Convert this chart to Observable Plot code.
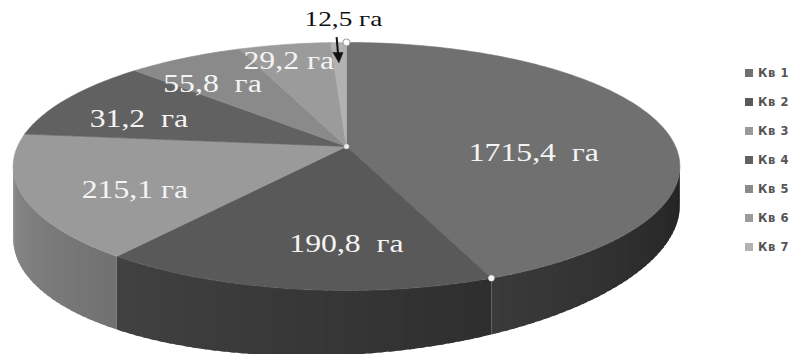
<!DOCTYPE html>
<html><head><meta charset="utf-8">
<script src="https://cdn.jsdelivr.net/npm/d3@7"></script>
<script src="https://cdn.jsdelivr.net/npm/@observablehq/plot@0.6"></script>
<style>
body{margin:0;background:#fff;}
#wrap{position:relative;width:796px;height:354px;overflow:hidden;background:#fff;}
#wrap > svg{position:absolute;left:0;top:0;}
#legend{position:absolute;left:745px;top:58px;}
#legend .lg-swatch{height:29px !important;padding:0 !important;margin:0 !important;display:flex !important;align-items:center !important;font:bold 11.5px "DejaVu Sans",sans-serif !important;letter-spacing:0.6px;color:#555 !important;}
#legend .lg-swatch svg{margin-right:5px !important;}
</style></head><body><div id="wrap"><div id="legend"></div></div>
<script>
// ---- data ----
const categories = ["Кв 1", "Кв 2", "Кв 3", "Кв 4", "Кв 5", "Кв 6", "Кв 7"];
const areaValues = [1715.4, 190.8, 215.1, 31.2, 55.8, 29.2, 12.5];
const areaLabels = ["1715,4\u00a0 га", "190,8\u00a0 га", "215,1 га", "31,2\u00a0 га", "55,8\u00a0 га", "29,2 га", "12,5 га"];
// slice sizes as they are drawn in the picture (degrees)
const drawnShares = [158, 59.5, 58.5, 38.3, 23.7, 18.8, 3.2];

// ---- styles / layout ----
const topColors = ["#707070", "#595959", "#9a9a9a", "#616161", "#8a8a8a", "#9b9b9b", "#b2b2b2"];
const labelRadius = [0.567, 0.711, 0.698, 0.698, 0.716, 0.818, 1.265];
const labelShift = [16.8, -7.75, -6.25, -5, -4.5, -1.4, 1.1];

const W = 796, H = 354;
const cx = 346, cy = 146, rx = 329, ry = 120.8, p = 0.161, D = 54, q = 0.3;
const rad = Math.PI / 180;
function proj(t, r, drop) {
  const u = r * Math.sin(t), v = -r * Math.cos(t);
  const s = 1 / (1 - p * v);
  return [cx + rx * u * s, cy + (ry * v + drop * (1 - q * Math.sin(t))) * s];
}
const arcs = d3.pie().sort(null).value(d => d)(drawnShares);

// top faces
const topPts = [];
arcs.forEach((a, i) => {
  const n = Math.max(2, Math.ceil((a.endAngle - a.startAngle) / rad));
  const c = proj(0, 0, 0);
  topPts.push({id: "t" + i, x: c[0], y: c[1], fill: topColors[i]});
  for (let k = 0; k <= n; k++) {
    const t = a.startAngle + (a.endAngle - a.startAngle) * k / n;
    const [x, y] = proj(t, 1, 0);
    topPts.push({id: "t" + i, x, y, fill: topColors[i]});
  }
  topPts.push({id: "t" + i, x: c[0], y: c[1], fill: topColors[i]});
});

// walls (visible front part), thin overlapping strips for shading
const tR = Math.acos(-p), tL = 2 * Math.PI - tR;
const wallPts = [];
function shade(col, t) {
  const f = Math.min(1, 0.31 + (t / rad - 100) * 0.0036);
  const c = d3.rgb(col);
  return d3.rgb(c.r * f, c.g * f, c.b * f).formatHex();
}
arcs.forEach((a, i) => {
  const a0 = Math.max(a.startAngle, tR - 2 * rad), a1 = Math.min(a.endAngle, tL + 2 * rad);
  if (a1 <= a0) return;
  const n = Math.max(1, Math.ceil((a1 - a0) / (1.5 * rad)));
  const step = (a1 - a0) / n;
  for (let k = 0; k < n; k++) {
    const t0 = a0 + step * k, t1 = Math.min(a1, a0 + step * (k + 1) + (k < n - 1 ? step * 0.6 : 0));
    const col = shade(topColors[i], a0 + step * (k + 0.5));
    const id = "w" + i + "_" + k;
    [proj(t0, 1, 0), proj(t1, 1, 0), proj(t1, 1, D), proj(t0, 1, D), proj(t0, 1, 0)]
      .forEach(([x, y]) => wallPts.push({id, x, y, fill: col}));
  }
});

// labels
const labels = arcs.map((a, i) => {
  const t = (a.startAngle + a.endAngle) / 2 + labelShift[i] * rad;
  const [x, y] = proj(t, labelRadius[i], 0);
  return {x, y, text: areaLabels[i], value: areaValues[i], outer: labelRadius[i] > 1};
});
const inner = labels.filter(d => !d.outer), outer = labels.filter(d => d.outer);

// arrow to smallest slice
const last = arcs[arcs.length - 1];
const ta = (last.startAngle + last.endAngle) / 2 - 0.3 * rad;
const aStart = proj(ta, 1.06, 0), aBase = proj(ta, 0.89, 0), aTip = proj(ta, 0.78, 0);
const shaft = [{x1: aStart[0], y1: aStart[1], x2: aBase[0], y2: aBase[1] + 1}];
const head = [[aBase[0] - 5, aBase[1]], [aBase[0] + 5, aBase[1]], aTip, [aBase[0] - 5, aBase[1]]]
  .map(([x, y]) => ({x, y}));

const c0 = proj(0, 0, 0), rim1 = proj(arcs[0].endAngle, 1, 0), topPt = proj(0, 1, 0);

const chart = Plot.plot({
  width: W, height: H, margin: 0,
  x: {domain: [0, W], range: [0, W], axis: null},
  y: {domain: [0, H], range: [0, H], axis: null},
  style: {background: "transparent"},
  marks: [
    Plot.line(wallPts, {x: "x", y: "y", z: "id", fill: "fill", curve: "linear"}),
    Plot.line(topPts, {x: "x", y: "y", z: "id", fill: "fill", stroke: "fill", strokeWidth: 0.6, curve: "linear"}),
    Plot.dot([c0], {x: d => d[0], y: d => d[1], r: 2.5, fill: "#eee", stroke: "#bbb", strokeWidth: 0.5}),
    Plot.dot([rim1], {x: d => d[0], y: d => d[1], r: 3, fill: "#f4f4f4", stroke: "#ccc", strokeWidth: 0.5}),
    Plot.dot([topPt], {x: d => d[0], y: d => d[1], r: 3.5, fill: "#fff", stroke: "#999", strokeWidth: 1}),
    Plot.text(inner, {x: "x", y: "y", text: "text", fill: "#f4f4f4", fontSize: 25, fontFamily: "Liberation Serif"}),
    Plot.text(outer, {x: "x", y: "y", text: "text", fill: "#111", fontSize: 21, fontFamily: "Liberation Serif"}),
    Plot.link(shaft, {x1: "x1", y1: "y1", x2: "x2", y2: "y2", stroke: "#111", strokeWidth: 2}),
    Plot.line(head, {x: "x", y: "y", fill: "#111", stroke: "#111", strokeWidth: 0.5})
  ]
});

// horizontal stretch of the label glyphs (the reference text is widened)
function stretch(fillColor, sx) {
  d3.select(chart).selectAll('g[aria-label="text"]').each(function () {
    const f = (this.getAttribute("fill") || "").toLowerCase();
    if (f !== fillColor) return;
    d3.select(this).selectAll("text").each(function () {
      const tr = this.getAttribute("transform");
      if (tr) this.setAttribute("transform", tr + ` scale(${sx},1)`);
    });
  });
}
stretch("#f4f4f4", 1.27);
stretch("#111", 1.3);

document.getElementById("wrap").prepend(chart);

const legend = Plot.legend({
  color: {type: "ordinal", domain: categories, range: topColors},
  legend: "swatches", columns: 1, swatchSize: 8, className: "lg"
});
document.getElementById("legend").append(legend);
</script></body></html>
